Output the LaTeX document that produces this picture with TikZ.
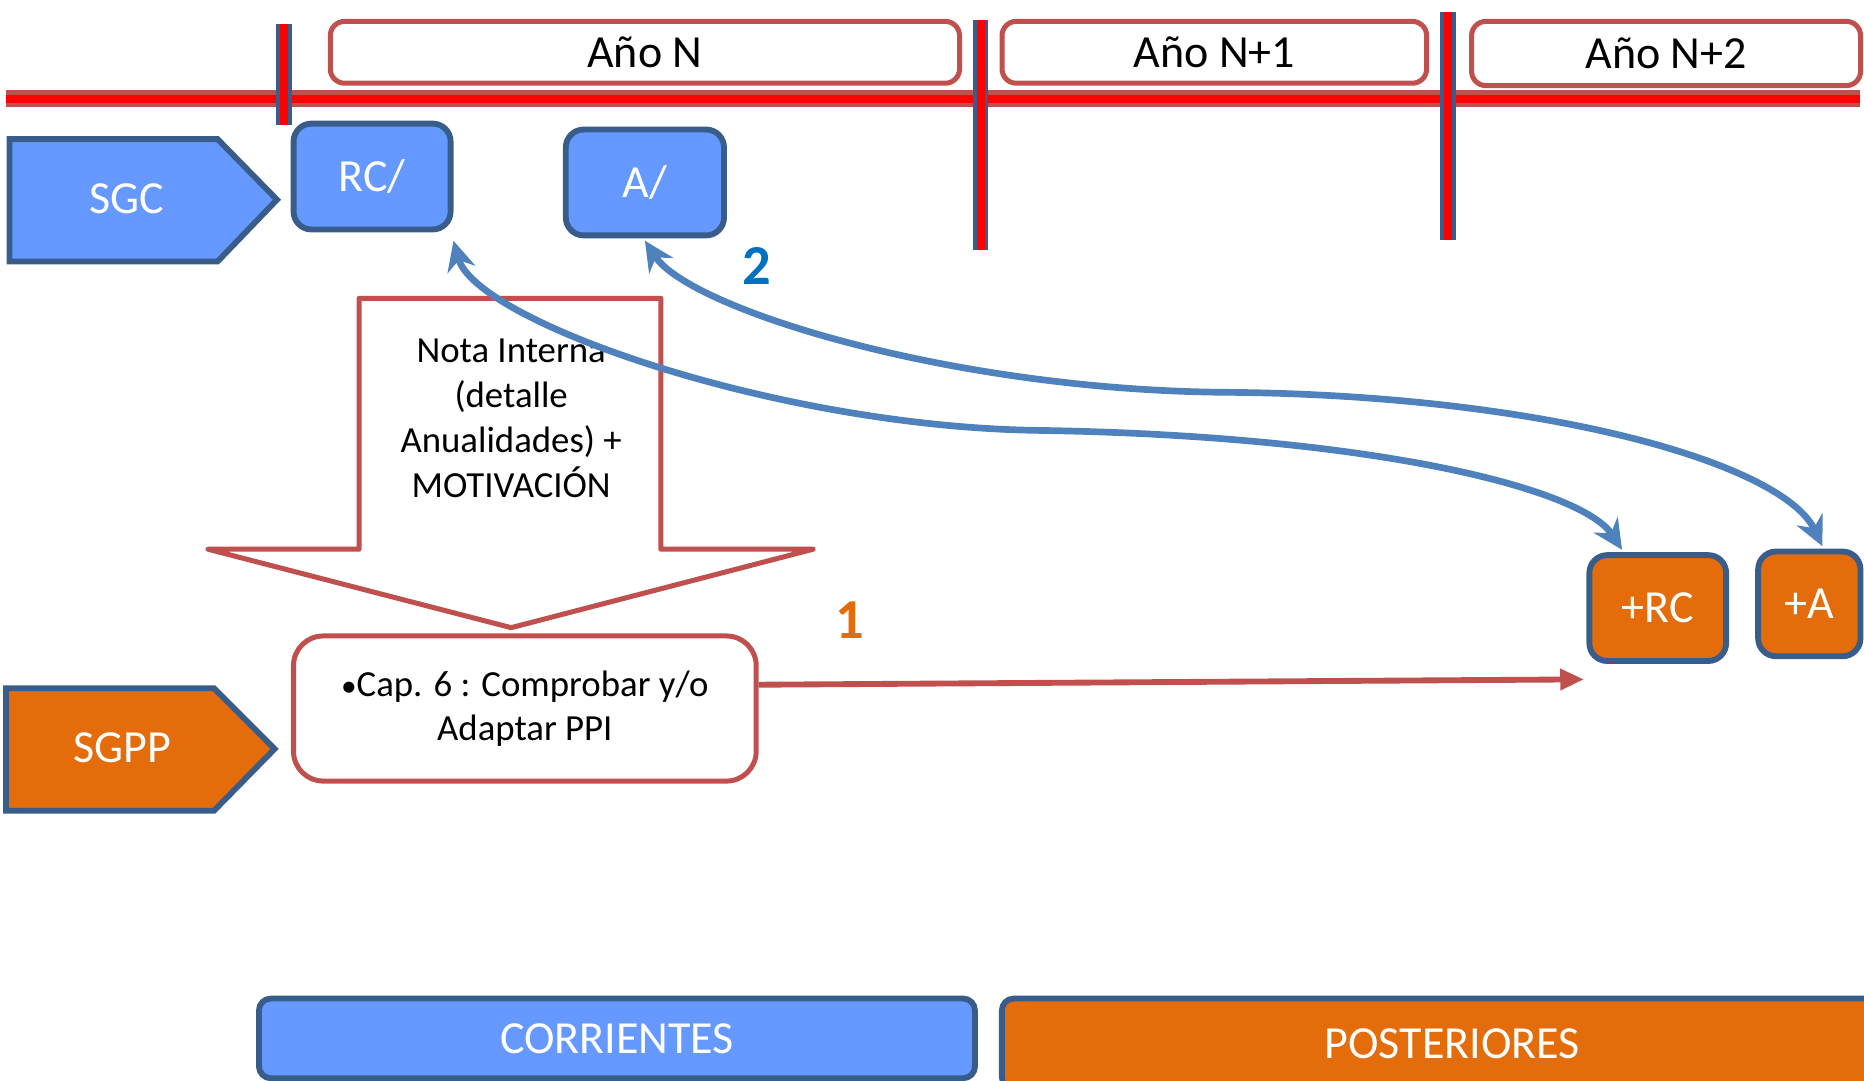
\documentclass[tikz,border=0pt]{standalone}
\usepackage{fontspec}
\setmainfont{Carlito}
\usetikzlibrary{arrows.meta}
\definecolor{boxblue}{RGB}{102,153,255}
\definecolor{edgeblue}{RGB}{56,93,138}
\definecolor{boxorange}{RGB}{228,108,10}
\definecolor{edgered}{RGB}{192,80,77}
\definecolor{linkblue}{RGB}{79,129,189}
\definecolor{numblue}{RGB}{0,112,192}
\definecolor{numorange}{RGB}{227,108,9}
\begin{document}
\begin{tikzpicture}[
                x=0.01cm, y=-0.01cm,
                year/.style={draw=edgered, line width=1.2pt, rounded corners=0.12cm, fill=white, minimum height=0.52cm, font=\fontsize{11}{13}\selectfont},
                unit/.style={draw=edgeblue, line width=1.4pt},
                unitlabel/.style={text=white, font=\fontsize{11}{13}\selectfont},
                budget/.style={draw=edgeblue, line width=1.4pt, rounded corners=0.15cm, text=white, minimum height=0.89cm, font=\fontsize{11}{13}\selectfont},
                period/.style={draw=edgeblue, line width=1.4pt, rounded corners=0.1cm, text=white, font=\fontsize{11}{13}\selectfont},
                tick/.style={draw=edgeblue, double=red, line width=0.03cm, double distance=0.07cm},
                link/.style={linkblue, line width=1.6pt, {Stealth[length=0.25cm,width=0.24cm]}-{Stealth[length=0.25cm,width=0.24cm]}},
                num/.style={font=\bfseries\fontsize{13.5}{15}\selectfont},
            ]
            \useasboundingbox (0,0) rectangle (1568,909);
            \coordinate (tl) at (5,83);
            \coordinate (tr) at (1565,83);
            \draw[draw=edgered, double=red, line width=0.035cm, double distance=0.07cm] (tl) -- (tr);
            \draw[tick] (239,20) -- (239,105);
            \draw[tick] (825,17) -- (825,210);
            \draw[tick] (1218,10) -- (1218,202);
            \node[year, minimum width=5.29cm] (yn) at (542.5,44) {Año N};
            \node[year, minimum width=3.57cm] (yn1) at (1021.5,44) {Año N+1};
            \node[year, minimum width=3.27cm, minimum height=0.54cm] (yn2) at (1401.5,45) {Año N+2};
            \draw[unit, fill=boxblue] (8,117) -- (183,117) -- (233,168) -- (183,220) -- (8,220) -- cycle;
            \node[unitlabel] (sgc) at (107,167) {SGC};
            \draw[unit, fill=boxorange] (5,579) -- (180,579) -- (231,630) -- (180,682) -- (5,682) -- cycle;
            \node[unitlabel] (sgpp) at (103,629) {SGPP};
            \node[budget, fill=boxblue, minimum width=1.32cm] (rc) at (313,148.5) {RC/};
            \node[budget, fill=boxblue, minimum width=1.33cm] (a) at (542.5,153.5) {A/};
            \node[budget, fill=boxorange, minimum width=1.15cm] (prc) at (1394.5,511.5) {+RC};
            \node[budget, fill=boxorange, minimum width=0.86cm, minimum height=0.88cm] (pa) at (1522,508) {+A};
            \draw[draw=edgered, line width=1.2pt, line join=round, fill=white] (302,251) -- (556,251) -- (556,462) -- (684,462) -- (430,528) -- (175,462) -- (302,462) -- cycle;
            \node[align=center, font=\fontsize{8.8}{10.8}\selectfont] (note) at (430,352) {Nota Interna\\(detalle\\Anualidades) +\\MOTIVACIÓN};
            \node[draw=edgered, line width=1.2pt, rounded corners=0.25cm, minimum width=3.89cm, minimum height=1.22cm, align=center, font=\fontsize{8.8}{10.6}\selectfont] (cap) at (441.5,596) {{\fontsize{7.5}{7.5}\selectfont•}Cap. 6 : Comprobar y/o\\Adaptar PPI};
            \draw[edgered, line width=1.4pt, -{Triangle[length=0.2cm,width=0.17cm]}] ([yshift=0.2cm]cap.east) -- ([xshift=-0.02cm, yshift=-0.13cm]prc.south west);
            \draw[link] ([yshift=-0.07cm]rc.south east) .. controls (400,270) and (650,358) .. (870,362) .. controls (1150,366) and (1330,410) .. ([xshift=-0.3cm, yshift=0.02cm]prc.north);
            \draw[link] ([yshift=-0.02cm]a.south) .. controls (580,260) and (800,328) .. (1030,330) .. controls (1300,332) and (1500,390) .. ([xshift=0.11cm, yshift=0.02cm]pa.north);
            \node[num, text=numorange] (one) at (715,522) {1};
            \node[num, text=numblue] (two) at (637,224) {2};
            \node[period, fill=boxblue, minimum width=6.02cm, minimum height=0.67cm] (cur) at (519,873.5) {CORRIENTES};
            \node[period, fill=boxorange, minimum width=7.57cm, minimum height=0.76cm] (post) at (1221.5,878) {POSTERIORES};
            \end{tikzpicture}
\end{document}
